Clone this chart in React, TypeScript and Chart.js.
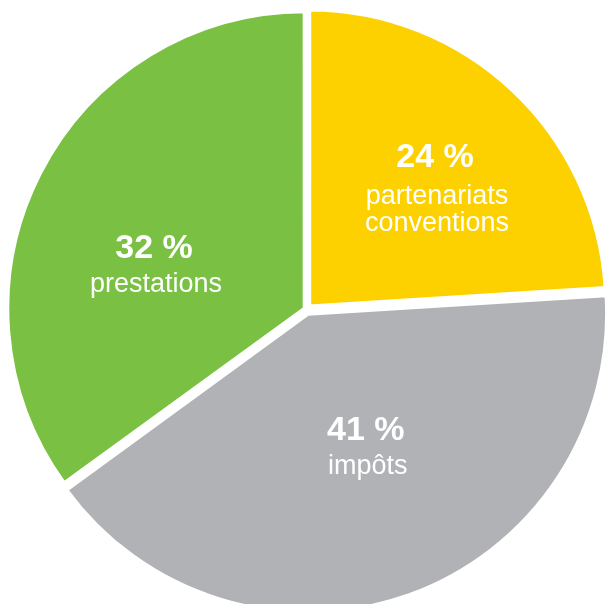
import { useEffect, useRef } from "react";
import { Chart, registerables } from "chart.js";

Chart.register(...registerables);

// ---- data ----
const categories = ["partenariats conventions", "impôts", "prestations"];
const sliceValues = [24, 41, 35];
const percentLabels = ["24 %", "41 %", "32 %"];
const labelLines = [["partenariats", "conventions"], ["impôts"], ["prestations"]];

// ---- style / layout ----
const sliceColors = ["#FDD000", "#B1B2B5", "#7AC143"];
const sliceOffsets = [16, 18, 8];
const labelAngleDeg = [42, 155.5, 288.7];
const labelDist = [192, 143, 161];
const labelGap = [37.5, 34, 34];

const labelPlugin = {
  id: "sliceLabels",
  afterDatasetsDraw(chart: any) {
    const meta = chart.getDatasetMeta(0);
    const ctx = chart.ctx as CanvasRenderingContext2D;
    meta.data.forEach((arc: any, i: number) => {
      const { x, y } = arc.getProps(["x", "y"], true);
      const a = (labelAngleDeg[i] * Math.PI) / 180;
      const ax = x + labelDist[i] * Math.sin(a);
      const ay = y - labelDist[i] * Math.cos(a);
      ctx.save();
      ctx.fillStyle = "#ffffff";
      ctx.textAlign = "center";
      ctx.textBaseline = "alphabetic";
      ctx.font = "bold 34px 'Liberation Sans', Arial, sans-serif";
      ctx.fillText(percentLabels[i], ax, ay);
      ctx.font = "27px 'Liberation Sans', Arial, sans-serif";
      labelLines[i].forEach((t, j) => {
        ctx.fillText(t, ax + 2, ay + labelGap[i] + j * 27);
      });
      ctx.restore();
    });
  },
};

export default function App() {
  const ref = useRef<HTMLCanvasElement | null>(null);

  useEffect(() => {
    if (!ref.current) return;
    const chart = new Chart(ref.current, {
      type: "pie",
      data: {
        labels: categories,
        datasets: [
          {
            data: sliceValues,
            backgroundColor: sliceColors,
            borderColor: "#ffffff",
            borderWidth: 4,
            borderAlign: "center",
            offset: sliceOffsets,
            clip: false,
          } as any,
        ],
      },
      options: {
        animation: false,
        responsive: false,
        radius: 297,
        layout: { padding: { left: 7, top: 15, right: 0, bottom: 0 } },
        plugins: {
          legend: { display: false },
          tooltip: { enabled: false },
        },
        events: [],
      } as any,
      plugins: [labelPlugin],
    });
    return () => chart.destroy();
  }, []);

  return (
    <div style={{ position: "fixed", left: 0, top: 0, width: 606, height: 604, background: "#fff" }}>
      <canvas ref={ref} width={606} height={604} style={{ display: "block" }} />
    </div>
  );
}
